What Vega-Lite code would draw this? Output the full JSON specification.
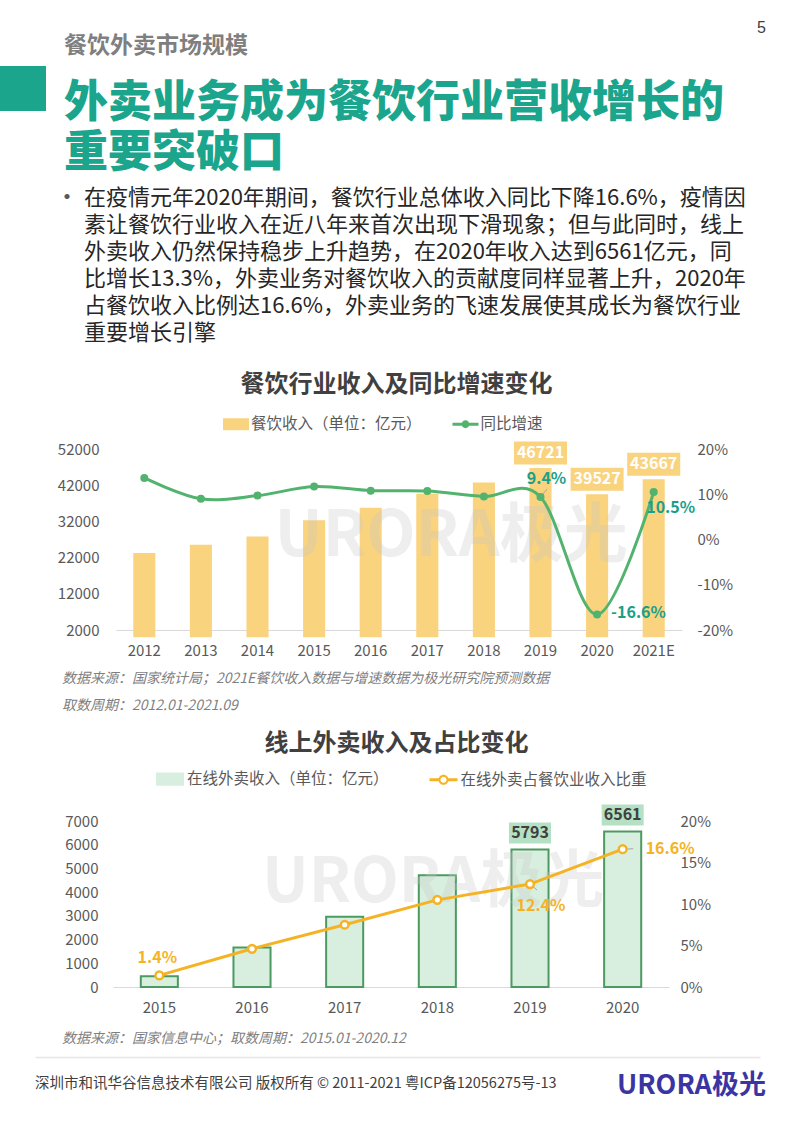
{
  "$schema": "https://vega.github.io/schema/vega-lite/v6.json",
  "padding": 0,
  "background": "#ffffff",
  "bounds": "flush",
  "spacing": 0,
  "resolve": {"scale": {"color": "independent"}, "legend": {"color": "independent"}},
  "config": {
    "font": "Noto Sans CJK SC",
    "locale": {"number": {"decimal": ".", "thousands": ",", "grouping": [3], "currency": ["", ""], "minus": "-"}},
    "view": {"stroke": null},
    "title": {"anchor": "start", "frame": "group", "orient": "bottom", "baseline": "alphabetic", "font": "Noto Sans CJK SC"},
    "axis": {"labelFont": "Noto Sans CJK SC", "labelFontSize": 15, "labelColor": "#595959", "grid": false, "ticks": false, "labelOverlap": false},
    "legend": {"labelFont": "Noto Sans CJK SC", "labelFontSize": 15.5, "labelColor": "#595959", "labelLimit": 400, "padding": 0}
  },
  "datasets": {
    "c1": [
      {"year": "2012", "rev": 23283, "g": 0.136},
      {"year": "2013", "rev": 25569, "g": 0.090},
      {"year": "2014", "rev": 27860, "g": 0.097},
      {"year": "2015", "rev": 32310, "g": 0.117},
      {"year": "2016", "rev": 35799, "g": 0.108},
      {"year": "2017", "rev": 39644, "g": 0.107},
      {"year": "2018", "rev": 42716, "g": 0.095},
      {"year": "2019", "rev": 46721, "g": 0.094},
      {"year": "2020", "rev": 39527, "g": -0.166},
      {"year": "2021E", "rev": 43667, "g": 0.105}
    ],
    "c2": [
      {"year": "2015", "rev": 458, "share": 0.014},
      {"year": "2016", "rev": 1662, "share": 0.046},
      {"year": "2017", "rev": 2966, "share": 0.075},
      {"year": "2018", "rev": 4712, "share": 0.105},
      {"year": "2019", "rev": 5793, "share": 0.124},
      {"year": "2020", "rev": 6561, "share": 0.166}
    ]
  },
  "vconcat": [
    {"width": 793, "height": 20, "data": {"values": []}, "mark": "point",
     "title": {"text": "5", "fontSize": 16, "fontWeight": "normal", "color": "#404040", "offset": 0, "dx": 757, "font": "Liberation Sans"}},
    {"width": 793, "height": 46, "data": {"values": []}, "mark": "point",
     "title": {"text": "餐饮外卖市场规模", "fontSize": 23, "fontWeight": "bold", "color": "#7F7F7F", "offset": -31, "dx": 64}},
    {"width": 46, "height": 45, "data": {"values": []}, "mark": "point", "view": {"fill": "#1BA58C", "stroke": null},
     "title": {"text": ["外卖业务成为餐饮行业营收增长的", "重要突破口"], "fontSize": 44, "fontWeight": 900, "color": "#1BA58C", "lineHeight": 50, "offset": -29, "dx": 64}},
    {"width": 793, "height": 1, "data": {"values": []}, "mark": "point",
     "title": {"text": "•", "fontSize": 24, "color": "#595959", "fontWeight": "normal", "offset": 74, "dx": 55}},
    {"width": 793, "height": 248, "data": {"values": []}, "mark": "point",
     "title": {"text": [
       "在疫情元年2020年期间，餐饮行业总体收入同比下降16.6%，疫情因",
       "素让餐饮行业收入在近八年来首次出现下滑现象；但与此同时，线上",
       "外卖收入仍然保持稳步上升趋势，在2020年收入达到6561亿元，同",
       "比增长13.3%，外卖业务对餐饮收入的贡献度同样显著上升，2020年",
       "占餐饮收入比例达16.6%，外卖业务的飞速发展使其成长为餐饮行业",
       "重要增长引擎"
     ], "fontSize": 22, "fontWeight": "normal", "color": "#262626", "lineHeight": 27, "offset": -172.4, "dx": 84}},
    {"width": 793, "height": 89, "data": {"values": []}, "mark": "point",
     "title": {"text": "餐饮行业收入及同比增速变化", "anchor": "middle", "fontSize": 24, "fontWeight": "bold", "color": "#404040", "offset": -76}},
    {
      "width": 793, "height": 181,
      "data": {"name": "c1"},
      "encoding": {
        "x": {"field": "year", "type": "ordinal", "sort": null,
              "scale": {"range": [116, 682], "paddingInner": 0.61, "paddingOuter": 0.305},
              "axis": {"title": null, "labelAngle": 0, "domainColor": "#D9D9D9", "domainWidth": 1, "labelPadding": 13}}
      },
      "layer": [
        {
          "layer": [
            {
              "mark": {"type": "bar", "color": "#FAD37F"},
              "encoding": {
                "y": {"field": "rev", "type": "quantitative",
                      "scale": {"domain": [2000, 52000], "zero": false, "nice": false},
                      "axis": {"orient": "left", "offset": -116, "title": null, "values": [2000, 12000, 22000, 32000, 42000, 52000], "tickCount": 20, "format": "d", "domain": false, "labelPadding": 17, "labelOverlap": false}},
                "color": {"datum": "餐饮收入（单位：亿元）", "type": "nominal",
                          "scale": {"domain": ["餐饮收入（单位：亿元）", "同比增速"], "range": ["#FAD37F", "#52B36E"]},
                          "legend": {"title": null, "orient": "none", "legendX": 223, "legendY": -38, "direction": "horizontal",
                                     "symbolSize": 676, "labelOffset": 2, "columnPadding": 30.5,
                                     "encode": {"symbols": {"update": {
                                       "shape": {"signal": "datum.value === '同比增速' ? 'M-1,-0.11H1V0.11H-1Z M-0.3,0A0.3,0.3 0 1 1 0.3,0A0.3,0.3 0 1 1 -0.3,0Z' : 'M-1,-0.46H1V0.46H-1Z'"},
                                       "fill": {"signal": "datum.value === '同比增速' ? '#52B36E' : '#FAD37F'"},
                                       "stroke": {"value": "transparent"},
                                       "strokeWidth": {"value": 0},
                                       "opacity": {"value": 1}
                                     }}}}}
              }
            },
            {
              "data": {"values": [{}]},
              "mark": {"type": "text", "text": "URORA极光", "fontSize": 64, "fontWeight": "bold", "color": "#C8C8C8", "opacity": 0.3, "dx": 24, "baseline": "middle", "align": "center"},
              "encoding": {"x": {"datum": "2017"}, "y": {"datum": 27800, "type": "quantitative"}}
            },
            {
              "transform": [{"filter": {"field": "year", "oneOf": ["2019", "2020", "2021E"]}}],
              "mark": {"type": "point", "shape": "M-1,-0.434H1V0.434H-1Z", "size": 2809, "filled": true, "color": "#FAD37F", "opacity": 1, "strokeWidth": 0, "yOffset": -15},
              "encoding": {"y": {"field": "rev", "type": "quantitative"}}
            },
            {
              "transform": [{"filter": {"field": "year", "oneOf": ["2019", "2020", "2021E"]}}],
              "mark": {"type": "text", "color": "#ffffff", "fontWeight": "bold", "fontSize": 16, "dy": -15, "baseline": "middle", "align": "center"},
              "encoding": {"y": {"field": "rev", "type": "quantitative"}, "text": {"field": "rev", "type": "quantitative", "format": "d"}}
            }
          ]
        },
        {
          "layer": [
            {
              "mark": {"type": "line", "interpolate": "cardinal", "strokeWidth": 3},
              "encoding": {
                "y": {"field": "g", "type": "quantitative",
                      "scale": {"domain": [-0.2, 0.2], "zero": false, "nice": false},
                      "axis": {"orient": "right", "offset": -111, "title": null, "values": [-0.2, -0.1, 0, 0.1, 0.2], "tickCount": 20, "labelExpr": "round(datum.value*100) + '%'", "domain": false, "labelPadding": 15, "labelOverlap": false}},
                "color": {"datum": "同比增速", "type": "nominal"}
              }
            },
            {
              "transform": [{"filter": "datum.year === '2019'"}],
              "mark": {"type": "point", "shape": "M0.3,-0.3L1.3,-1.6", "size": 100, "filled": false, "stroke": "#A6A6A6", "strokeWidth": 1, "opacity": 1},
              "encoding": {"y": {"field": "g", "type": "quantitative"}}
            },
            {
              "mark": {"type": "point", "shape": "circle", "filled": true, "color": "#52B36E", "size": 64, "opacity": 1},
              "encoding": {"y": {"field": "g", "type": "quantitative"}}
            },
            {
              "transform": [{"filter": "datum.year === '2019'"}],
              "mark": {"type": "text", "color": "#19A08C", "fontWeight": "bold", "fontSize": 16, "dx": 6, "dy": -18, "align": "center", "baseline": "middle"},
              "encoding": {"y": {"field": "g", "type": "quantitative"}, "text": {"field": "g", "type": "quantitative", "format": ".1%"}}
            },
            {
              "transform": [{"filter": "datum.year === '2020'"}],
              "mark": {"type": "text", "color": "#19A08C", "fontWeight": "bold", "fontSize": 16, "dx": 14, "dy": -2, "align": "left", "baseline": "middle"},
              "encoding": {"y": {"field": "g", "type": "quantitative"}, "text": {"field": "g", "type": "quantitative", "format": ".1%"}}
            },
            {
              "transform": [{"filter": "datum.year === '2021E'"}],
              "mark": {"type": "text", "color": "#19A08C", "fontWeight": "bold", "fontSize": 16, "dx": 17, "dy": 16, "align": "center", "baseline": "middle"},
              "encoding": {"y": {"field": "g", "type": "quantitative"}, "text": {"field": "g", "type": "quantitative", "format": ".1%"}}
            }
          ]
        }
      ],
      "resolve": {"scale": {"y": "independent"}}
    },
    {"width": 793, "height": 96, "data": {"values": []}, "mark": "point",
     "title": {"text": ["数据来源：国家统计局；2021E餐饮收入数据与增速数据为极光研究院预测数据", "取数周期：2012.01-2021.09"], "fontSize": 14, "fontStyle": "italic", "fontWeight": "normal", "color": "#7F7F7F", "lineHeight": 27, "offset": -54, "dx": 62}},
    {"width": 793, "height": 95, "data": {"values": []}, "mark": "point",
     "title": {"text": "线上外卖收入及占比变化", "anchor": "middle", "fontSize": 24, "fontWeight": "bold", "color": "#404040", "offset": -89}},
    {
      "width": 793, "height": 166,
      "data": {"name": "c2"},
      "encoding": {
        "x": {"field": "year", "type": "ordinal", "sort": null,
              "scale": {"range": [113, 669], "paddingInner": 0.6, "paddingOuter": 0.3},
              "axis": {"title": null, "labelAngle": 0, "domainColor": "#D9D9D9", "domainWidth": 1, "labelPadding": 13.5}}
      },
      "layer": [
        {
          "layer": [
            {
              "mark": {"type": "bar", "color": "#D8EFDF"},
              "encoding": {
                "y": {"field": "rev", "type": "quantitative",
                      "scale": {"domain": [0, 7000], "nice": false},
                      "axis": {"orient": "left", "offset": -113, "title": null, "values": [0, 1000, 2000, 3000, 4000, 5000, 6000, 7000], "tickCount": 20, "format": "d", "domain": false, "labelPadding": 15, "labelOverlap": false}},
                "color": {"datum": "在线外卖收入（单位：亿元）", "type": "nominal",
                          "scale": {"domain": ["在线外卖收入（单位：亿元）", "在线外卖占餐饮业收入比重"], "range": ["#D8EFDF", "#F5B324"]},
                          "legend": {"title": null, "orient": "none", "legendX": 155, "legendY": -57, "direction": "horizontal",
                                     "symbolSize": 784, "labelOffset": 2, "columnPadding": 39.5,
                                     "encode": {"symbols": {"update": {
                                       "shape": {"signal": "datum.value === '在线外卖占餐饮业收入比重' ? 'M-1,-0.1H-0.34V0.1H-1Z M0.34,-0.1H1V0.1H0.34Z M-0.36,0A0.36,0.36 0 1 1 0.36,0A0.36,0.36 0 1 1 -0.36,0Z M-0.22,0A0.22,0.22 0 1 0 0.22,0A0.22,0.22 0 1 0 -0.22,0Z' : 'M-0.93,-0.4H0.93V0.4H-0.93Z'"},
                                       "fill": {"signal": "datum.value === '在线外卖占餐饮业收入比重' ? '#F5B324' : '#D8EFDF'"},
                                       "stroke": {"value": "#4C9A61"},
                                       "strokeOpacity": {"signal": "datum.value === '在线外卖占餐饮业收入比重' ? 0 : 1"},
                                       "strokeWidth": {"value": 2},
                                       "opacity": {"value": 1}
                                     }}}}}
              }
            },
            {
              "mark": {"type": "bar", "filled": false, "color": "#4C9A61", "strokeWidth": 2},
              "encoding": {"y": {"field": "rev", "type": "quantitative"}}
            },
            {
              "data": {"values": [{}]},
              "mark": {"type": "text", "text": "URORA极光", "fontSize": 62, "fontWeight": "bold", "color": "#C8C8C8", "opacity": 0.3, "dx": -4, "baseline": "middle", "align": "center"},
              "encoding": {"x": {"datum": "2018"}, "y": {"datum": 4400, "type": "quantitative"}}
            },
            {
              "transform": [{"filter": {"field": "year", "oneOf": ["2019", "2020"]}}],
              "mark": {"type": "point", "shape": "M-1,-0.5H1V0.5H-1Z", "size": 1764, "filled": true, "color": "#B5E0C3", "opacity": 1, "strokeWidth": 0, "yOffset": -16.5},
              "encoding": {"y": {"field": "rev", "type": "quantitative"}}
            },
            {
              "transform": [{"filter": {"field": "year", "oneOf": ["2019", "2020"]}}],
              "mark": {"type": "text", "color": "#404040", "fontWeight": "bold", "fontSize": 16, "dy": -16.5, "baseline": "middle", "align": "center"},
              "encoding": {"y": {"field": "rev", "type": "quantitative"}, "text": {"field": "rev", "type": "quantitative", "format": "d"}}
            }
          ]
        },
        {
          "layer": [
            {
              "mark": {"type": "line", "strokeWidth": 3},
              "encoding": {
                "y": {"field": "share", "type": "quantitative",
                      "scale": {"domain": [0, 0.2], "nice": false},
                      "axis": {"orient": "right", "offset": -124, "title": null, "values": [0, 0.05, 0.1, 0.15, 0.2], "tickCount": 20, "format": ".0%", "domain": false, "labelPadding": 11, "labelOverlap": false}},
                "color": {"datum": "在线外卖占餐饮业收入比重", "type": "nominal"}
              }
            },
            {
              "transform": [{"filter": "datum.year === '2019'"}],
              "mark": {"type": "point", "shape": "M0.4,0.3L1.4,1.2", "size": 100, "filled": false, "stroke": "#A6A6A6", "strokeWidth": 1, "opacity": 1},
              "encoding": {"y": {"field": "share", "type": "quantitative"}}
            },
            {
              "transform": [{"filter": "datum.year === '2020'"}],
              "mark": {"type": "point", "shape": "M0.5,0L2.1,-0.1", "size": 100, "filled": false, "stroke": "#A6A6A6", "strokeWidth": 1, "opacity": 1},
              "encoding": {"y": {"field": "share", "type": "quantitative"}}
            },
            {
              "mark": {"type": "point", "shape": "circle", "filled": true, "fill": "#ffffff", "stroke": "#F5B324", "strokeWidth": 2.5, "size": 60, "opacity": 1},
              "encoding": {"y": {"field": "share", "type": "quantitative"}}
            },
            {
              "transform": [{"filter": "datum.year === '2015'"}],
              "mark": {"type": "text", "color": "#F5B324", "fontWeight": "bold", "fontSize": 16, "dx": -2, "dy": -17, "align": "center", "baseline": "middle"},
              "encoding": {"y": {"field": "share", "type": "quantitative"}, "text": {"field": "share", "type": "quantitative", "format": ".1%"}}
            },
            {
              "transform": [{"filter": "datum.year === '2019'"}],
              "mark": {"type": "text", "color": "#F5B324", "fontWeight": "bold", "fontSize": 16, "dx": 11, "dy": 22, "align": "center", "baseline": "middle"},
              "encoding": {"y": {"field": "share", "type": "quantitative"}, "text": {"field": "share", "type": "quantitative", "format": ".1%"}}
            },
            {
              "transform": [{"filter": "datum.year === '2020'"}],
              "mark": {"type": "text", "color": "#F5B324", "fontWeight": "bold", "fontSize": 16, "dx": 23, "dy": 0, "align": "left", "baseline": "middle"},
              "encoding": {"y": {"field": "share", "type": "quantitative"}, "text": {"field": "share", "type": "quantitative", "format": ".1%"}}
            }
          ]
        }
      ],
      "resolve": {"scale": {"y": "independent"}}
    },
    {"width": 793, "height": 70, "data": {"values": []}, "mark": "point",
     "title": {"text": "数据来源：国家信息中心；取数周期：2015.01-2020.12", "fontSize": 14, "fontStyle": "italic", "fontWeight": "normal", "color": "#7F7F7F", "offset": -24.7, "dx": 62}},
    {"width": 793, "height": 1, "data": {"values": [{}]},
     "mark": {"type": "point", "opacity": 0},
     "encoding": {"x": {"datum": 0, "type": "quantitative", "scale": {"domain": [0, 1], "range": [35, 760]},
                        "axis": {"orient": "top", "domainColor": "#E6E6E6", "domainWidth": 1.5, "labels": false, "ticks": false, "title": null, "grid": false}}},
     "title": {"text": "URORA极光", "fontSize": 27, "fontWeight": "bold", "color": "#3B35A3", "offset": 13, "dx": 617}},
    {"width": 793, "height": 64, "data": {"values": []}, "mark": "point",
     "title": {"text": "深圳市和讯华谷信息技术有限公司 版权所有 © 2011-2021 粤ICP备12056275号-13", "fontSize": 14.5, "fontWeight": "normal", "color": "#404040", "offset": -45, "dx": 35}}
  ]
}
